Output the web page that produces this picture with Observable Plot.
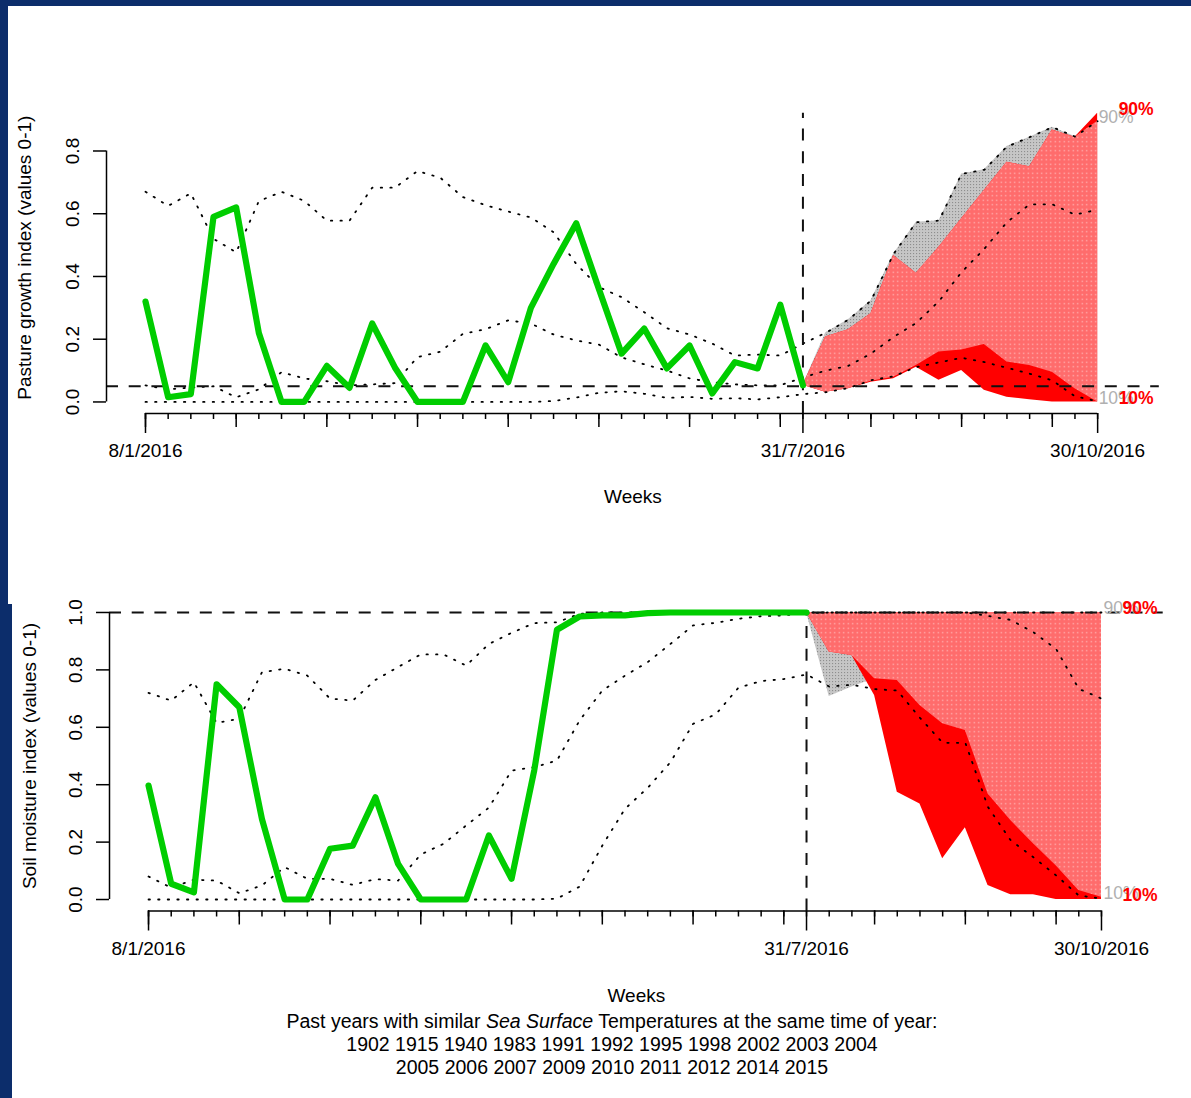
<!DOCTYPE html>
<html><head><meta charset="utf-8">
<script src="https://cdn.jsdelivr.net/npm/d3@7"></script>
<script src="https://cdn.jsdelivr.net/npm/@observablehq/plot@0.6"></script>
<style>
html,body{margin:0;padding:0;}
body{width:1191px;height:1098px;background:#0c2d6b;position:relative;overflow:hidden;font-family:"Liberation Sans",Arial,Helvetica,sans-serif;}
.panel{position:absolute;background:#fff;}
#p1{left:8px;top:6px;width:1183px;height:598px;}
#p2{left:12px;top:604px;width:1179px;height:494px;}
#c1{position:absolute;left:0;top:0;width:1191px;}
#c2{position:absolute;left:0;top:590px;width:1191px;}
#caption{position:absolute;left:12px;top:1010px;width:1200px;text-align:center;font-size:19.5px;line-height:23px;color:#000;}
</style></head>
<body>
<div class="panel" id="p1"></div><div class="panel" id="p2"></div>
<svg width="0" height="0" style="position:absolute"><defs>
<pattern id="pinkdots" width="4.5" height="4.5" patternUnits="userSpaceOnUse"><rect width="4.5" height="4.5" fill="#ff6c6c"/><rect x="1.6" y="1.6" width="1.3" height="1.3" fill="#ffb8b8"/></pattern>
<pattern id="graydots" width="3" height="3" patternUnits="userSpaceOnUse"><rect width="3" height="3" fill="#c6c6c6"/><rect x="1" y="1" width="1.1" height="1.1" fill="#8e8e8e"/></pattern>
</defs></svg>
<div id="c1"></div><div id="c2"></div>
<div id="caption"></div>
<script>
// ---------- axis / category data ----------
const weeksAll = d3.range(0, 43);       // weekly index 8/1/2016 .. 30/10/2016
const histWeeks = d3.range(0, 30);      // observed weeks up to 31/7/2016
const fcWeeks = d3.range(29, 43);       // forecast weeks 31/7 .. 30/10
const midTickWeeks = d3.range(0, 43, 4);
const labelWeeks = [0, 29, 42];
const labelText = ["8/1/2016", "31/7/2016", "30/10/2016"];
const xlim = [0, 43];
const nowWeek = 29;

// ---------- pasture growth index ----------
const pastureObs = [0.32, 0.015, 0.025, 0.59, 0.62, 0.22, 0.0, 0.0, 0.115, 0.045, 0.25, 0.11, 0.0, 0.0, 0.0, 0.18, 0.063, 0.30, 0.44, 0.57, 0.36, 0.154, 0.234, 0.107, 0.18, 0.027, 0.127, 0.107, 0.31, 0.053];
const pastureUpper = [0.67, 0.625, 0.665, 0.52, 0.477, 0.64, 0.67, 0.641, 0.578, 0.578, 0.683, 0.683, 0.736, 0.715, 0.653, 0.627, 0.607, 0.588, 0.541, 0.44, 0.366, 0.334, 0.286, 0.235, 0.215, 0.186, 0.148, 0.151, 0.148,
  0.186, 0.22, 0.262, 0.323, 0.472, 0.573, 0.578, 0.727, 0.74, 0.814, 0.844, 0.876, 0.846, 0.895];
const pastureMedian = [0.053, 0.04, 0.046, 0.05, 0.015, 0.04, 0.095, 0.075, 0.066, 0.053, 0.056, 0.06, 0.143, 0.16, 0.217, 0.232, 0.26, 0.25, 0.215, 0.196, 0.183, 0.142, 0.12, 0.10, 0.075, 0.063, 0.056, 0.053, 0.053,
  0.078, 0.10, 0.115, 0.154, 0.207, 0.252, 0.321, 0.414, 0.488, 0.573, 0.63, 0.63, 0.597, 0.613];
const pastureLower = [0, 0, 0, 0, 0, 0, 0, 0, 0, 0, 0, 0, 0, 0, 0, 0, 0, 0, 0.003, 0.014, 0.029, 0.034, 0.026, 0.013, 0.016, 0.01, 0.012, 0.008, 0.015,
  0.025, 0.031, 0.044, 0.069, 0.082, 0.111, 0.126, 0.141, 0.127, 0.109, 0.09, 0.069, 0.018, 0.002];
const pastureClim10 = [0.053, 0.031, 0.042, 0.066, 0.079, 0.116, 0.159, 0.166, 0.183, 0.127, 0.116, 0.095, 0.042, 0.0];
const pastureClim90 = [0.053, 0.22, 0.262, 0.323, 0.472, 0.573, 0.578, 0.727, 0.74, 0.814, 0.844, 0.876, 0.846, 0.895];
const pastureAna10 = [0.053, 0.031, 0.042, 0.063, 0.074, 0.111, 0.069, 0.10, 0.037, 0.015, 0.007, 0.0, 0.0, 0.0];
const pastureAna90 = [0.053, 0.207, 0.23, 0.281, 0.467, 0.41, 0.493, 0.584, 0.674, 0.764, 0.75, 0.867, 0.844, 0.92];
const pastureYTicks = [0, 0.2, 0.4, 0.6, 0.8];
const pastureRef = 0.05;

// ---------- soil moisture index ----------
const soilObs = [0.397, 0.055, 0.025, 0.75, 0.67, 0.28, 0.0, 0.0, 0.177, 0.188, 0.356, 0.124, 0.0, 0.0, 0.0, 0.223, 0.072, 0.45, 0.94, 0.986, 0.99, 0.99, 0.998, 1, 1, 1, 1, 1, 1, 1];
const soilUpper = [0.72, 0.693, 0.757, 0.615, 0.63, 0.792, 0.804, 0.78, 0.70, 0.693, 0.765, 0.81, 0.854, 0.854, 0.815, 0.89, 0.929, 0.963, 0.966, 0.995, 1, 1, 1, 1, 1, 1, 1, 1, 1,
  1, 1, 1, 1, 1, 1, 1, 1, 1, 1, 1, 1, 1, 1];
const soilMedian = [0.08, 0.041, 0.069, 0.066, 0.022, 0.049, 0.113, 0.072, 0.072, 0.051, 0.071, 0.066, 0.157, 0.194, 0.258, 0.32, 0.449, 0.461, 0.484, 0.624, 0.728, 0.78, 0.827, 0.89, 0.955, 0.964, 0.978, 0.987, 0.99,
  0.998, 1, 1, 1, 1, 1, 1, 1, 0.988, 0.974, 0.931, 0.873, 0.734, 0.70];
const soilLower = [0, 0, 0, 0, 0, 0, 0, 0, 0, 0, 0, 0, 0, 0, 0, 0, 0, 0, 0.003, 0.045, 0.188, 0.316, 0.389, 0.478, 0.612, 0.645, 0.738, 0.761, 0.768,
  0.784, 0.742, 0.748, 0.733, 0.728, 0.633, 0.546, 0.546, 0.322, 0.206, 0.147, 0.084, 0.014, 0.003];
const soilClim10 = [1.0, 0.707, 0.74, 0.769, 0.763, 0.676, 0.612, 0.589, 0.368, 0.275, 0.194, 0.118, 0.031, 0.008];
const soilClim90 = [1, 1, 1, 1, 1, 1, 1, 1, 1, 1, 1, 1, 1, 1];
const soilAna10 = [1.0, 0.862, 0.85, 0.711, 0.374, 0.333, 0.142, 0.25, 0.049, 0.017, 0.017, 0.0, 0.0, 0.0];
const soilAna90 = [1, 1, 1, 1, 1, 1, 1, 1, 1, 1, 1, 1, 1, 1];
const soilYTicks = [0, 0.2, 0.4, 0.6, 0.8, 1.0];
const soilRef = 1.0;

const analogYears = [1902, 1915, 1940, 1983, 1991, 1992, 1995, 1998, 2002, 2003, 2004, 2005, 2006, 2007, 2009, 2010, 2011, 2012, 2014, 2015];

const FONT = '"Liberation Sans", Arial, Helvetica, sans-serif';

function ext(lim) { const d = (lim[1] - lim[0]) * 0.04; return [lim[0] - d, lim[1] + d]; }

function makePanel(cfg) {
  const xd = ext(xlim), yd = ext(cfg.ylim);
  const obsData = histWeeks.map((w, i) => ({w, v: cfg.obs[i]}));
  const series = arr => weeksAll.map((w, i) => ({w, v: arr[i]}));
  const band = fcWeeks.map((w, i) => {
    const lo = Math.max(cfg.clim10[i], cfg.ana10[i]);
    const hi = Math.max(lo, Math.min(cfg.clim90[i], cfg.ana90[i]));
    return {w, c10: cfg.clim10[i], c90: cfg.clim90[i], a10: cfg.ana10[i], a90: cfg.ana90[i], lo, hi};
  });
  const last = band[band.length - 1];
  const dotted = {stroke: "#000", strokeWidth: 1.8, strokeDasharray: "1.4,8.2"};
  const dashed = {stroke: "#111", strokeWidth: 2, strokeDasharray: "12,10.7"};
  const axisStyle = {strokeWidth: 1.5, label: null};
  return Plot.plot({
    width: 1191, height: cfg.height,
    marginLeft: cfg.ml, marginRight: cfg.mr, marginTop: cfg.mt, marginBottom: cfg.mb,
    x: {domain: xd, label: null},
    y: {domain: yd, label: null},
    style: {background: "transparent", fontFamily: FONT, fontSize: "19px", color: "#000", overflow: "hidden"},
    marks: [
      Plot.areaY(band, {x: "w", y1: "c10", y2: "c90", fill: "url(#graydots)"}),
      Plot.areaY(band, {x: "w", y1: "a10", y2: "a90", fill: "#ff0000"}),
      Plot.areaY(band, {x: "w", y1: "lo", y2: "hi", fill: "url(#pinkdots)"}),
      Plot.line(series(cfg.upper), {x: "w", y: "v", ...dotted}),
      Plot.line(series(cfg.median), {x: "w", y: "v", ...dotted}),
      Plot.line(series(cfg.lower), {x: "w", y: "v", ...dotted}),
      Plot.ruleY([cfg.ref], dashed),
      Plot.ruleX([nowWeek], {y1: () => yd[0], y2: () => cfg.ylim[1], ...dashed}),
      Plot.line(obsData, {x: "w", y: "v", stroke: "#00cd00", strokeWidth: 6.2, strokeLinejoin: "round"}),
      Plot.ruleY([yd[0]], {x1: () => labelWeeks[0], x2: () => labelWeeks[2], strokeWidth: 1.5}),
      Plot.ruleX([xd[0]], {y1: () => cfg.yTicks[0], y2: () => cfg.yTicks[cfg.yTicks.length - 1], strokeWidth: 1.5}),
      Plot.axisX(weeksAll, {tickSize: 6, tickFormat: () => "", ...axisStyle}),
      Plot.axisX(midTickWeeks, {tickSize: 14, tickFormat: () => "", ...axisStyle}),
      Plot.axisX(labelWeeks, {tickSize: 20, tickPadding: 10, tickFormat: d => labelText[labelWeeks.indexOf(d)], fontSize: 19, ...axisStyle}),
      Plot.axisY(cfg.yTicks, {tickSize: 13, tickRotate: -90, tickPadding: 15, tickFormat: d3.format(".1f"), fontSize: 19, ...axisStyle}),
      Plot.text([cfg.title], {text: d => d, frameAnchor: "left", textAnchor: "middle", dx: cfg.titleDx, rotate: -90, fontSize: 19}),
      Plot.text(["Weeks"], {text: d => d, frameAnchor: "bottom", lineAnchor: "top", dy: cfg.weeksDy, fontSize: 19}),
      Plot.text([last], {x: "w", y: "c90", text: () => "90%", fill: "#b0b0b0", textAnchor: "start", dx: cfg.gdx, dy: -4, fontSize: 17.5}),
      Plot.text([last], {x: "w", y: "c10", text: () => "10%", fill: "#b0b0b0", textAnchor: "start", dx: cfg.gdx, dy: -4, fontSize: 17.5}),
      Plot.text([last], {x: "w", y: "a90", text: () => "90%", fill: "#ff0000", textAnchor: "start", dx: 21, dy: -4, fontSize: 17.5, fontWeight: "bold"}),
      Plot.text([last], {x: "w", y: "a10", text: () => "10%", fill: "#ff0000", textAnchor: "start", dx: 21, dy: -4, fontSize: 17.5, fontWeight: "bold"})
    ]
  });
}

const topChart = makePanel({
  obs: pastureObs, upper: pastureUpper, median: pastureMedian, lower: pastureLower,
  clim10: pastureClim10, clim90: pastureClim90, ana10: pastureAna10, ana90: pastureAna90,
  ylim: [0, 0.92], yTicks: pastureYTicks, ref: pastureRef,
  title: "Pasture growth index (values 0-1)", titleDx: -82, gdx: 1, weeksDy: 76,
  height: 506, ml: 106, mr: 32.2, mt: 101.3, mb: 93
});
document.getElementById("c1").appendChild(topChart);

const bottomChart = makePanel({
  obs: soilObs, upper: soilUpper, median: soilMedian, lower: soilLower,
  clim10: soilClim10, clim90: soilClim90, ana10: soilAna10, ana90: soilAna90,
  ylim: [0, 1], yTicks: soilYTicks, ref: soilRef,
  title: "Soil moisture index (values 0-1)", titleDx: -80, gdx: 2, weeksDy: 77.5,
  height: 508, ml: 109, mr: 28.3, mt: 10.5, mb: 187.5
});
document.getElementById("c2").appendChild(bottomChart);

const cap = document.getElementById("caption");
cap.innerHTML = "Past years with similar <i>Sea Surface</i> Temperatures at the same time of year:<br>" +
  analogYears.slice(0, 11).join(" ") + "<br>" + analogYears.slice(11).join(" ");
</script>
</body></html>
